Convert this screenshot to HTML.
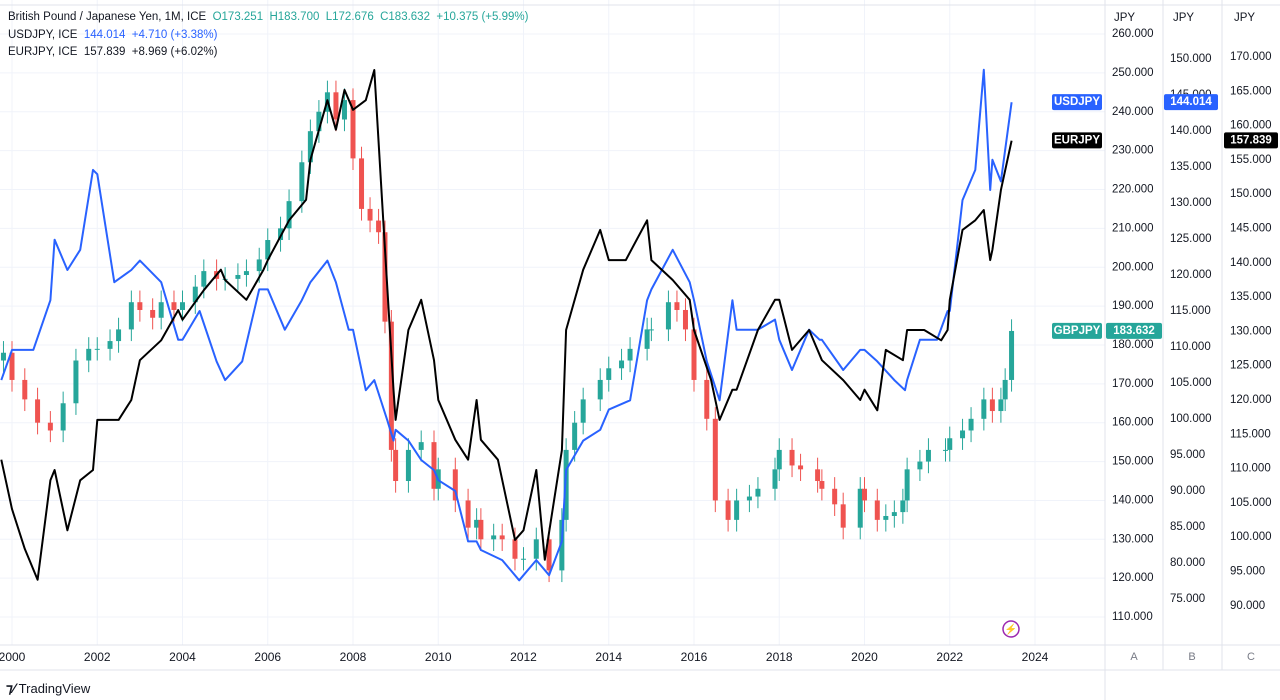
<!DOCTYPE html>
<html><head><meta charset="utf-8"><style>
body{margin:0;width:1280px;height:700px;background:#fff;font-family:"Liberation Sans",sans-serif;overflow:hidden;position:relative}
.lg{position:absolute;left:8px;font-size:11.5px;color:#131722;white-space:nowrap}
</style></head><body>
<svg id="c" width="1280" height="700" style="position:absolute;left:0;top:0" font-family="Liberation Sans, sans-serif"></svg>
<div class="lg" style="top:11px">British Pound / Japanese Yen, 1M, ICE &nbsp;<span style="color:#26a69a">O173.251 &nbsp;H183.700 &nbsp;L172.676 &nbsp;C183.632 &nbsp;+10.375 (+5.99%)</span></div>
<div class="lg" style="top:29px">USDJPY, ICE &nbsp;<span style="color:#2962ff">144.014 &nbsp;+4.710 (+3.38%)</span></div>
<div class="lg" style="top:46px">EURJPY, ICE &nbsp;157.839 &nbsp;+8.969 (+6.02%)</div>
<div style="position:absolute;left:6px;top:680px;font-size:13px;color:#131722"><b style="font-size:14px">⁊⁄</b> TradingView</div>
<script>
const gbpDates=[1999.8,2000.0,2000.3,2000.6,2000.9,2001.2,2001.5,2001.8,2002.0,2002.3,2002.5,2002.8,2003.0,2003.3,2003.5,2003.8,2004.0,2004.3,2004.5,2004.8,2005.0,2005.3,2005.5,2005.8,2006.0,2006.3,2006.5,2006.8,2007.0,2007.2,2007.4,2007.6,2007.8,2008.0,2008.2,2008.4,2008.6,2008.75,2008.9,2009.0,2009.3,2009.6,2009.9,2010.0,2010.4,2010.7,2010.9,2011.0,2011.3,2011.5,2011.8,2012.0,2012.3,2012.6,2012.9,2013.0,2013.2,2013.4,2013.8,2014.0,2014.3,2014.5,2014.9,2015.0,2015.4,2015.6,2015.8,2016.0,2016.3,2016.5,2016.8,2017.0,2017.3,2017.5,2017.9,2018.0,2018.3,2018.5,2018.9,2019.0,2019.3,2019.5,2019.9,2020.0,2020.3,2020.5,2020.7,2020.9,2021.0,2021.3,2021.5,2021.9,2022.0,2022.3,2022.5,2022.8,2023.0,2023.2,2023.3,2023.45];
const gbpClose=[178,171,166,160,158,165,176,179,179,181,184,191,189,187,191,189,191,195,199,197,197,198,199,202,207,210,217,227,235,240,245,238,243,228,215,212,209,186,153,145,153,155,143,148,140,133,135,130,131,130,125,125,130,122,135,153,160,166,171,174,176,179,184,184,191,189,184,171,161,140,135,140,141,143,148,153,149,148,145,143,139,133,143,140,135,136,137,140,148,150,153,153,156,158,161,166,163,166,171,183.6];
const usdDates=[1999.75,2000.0,2000.5,2000.9,2001.0,2001.3,2001.6,2001.9,2002.0,2002.4,2002.8,2003.0,2003.5,2003.9,2004.0,2004.4,2004.8,2005.0,2005.4,2005.8,2006.0,2006.4,2006.8,2007.0,2007.4,2007.6,2007.9,2008.0,2008.3,2008.5,2008.8,2008.95,2009.0,2009.3,2009.6,2009.9,2010.0,2010.4,2010.7,2010.9,2011.0,2011.5,2011.9,2012.0,2012.3,2012.6,2012.9,2013.0,2013.4,2013.8,2014.0,2014.5,2014.9,2015.0,2015.5,2015.9,2016.0,2016.3,2016.6,2016.9,2017.0,2017.5,2017.9,2018.0,2018.3,2018.7,2018.95,2019.0,2019.5,2019.9,2020.0,2020.3,2020.7,2020.95,2021.0,2021.3,2021.7,2021.95,2022.0,2022.3,2022.6,2022.8,2022.95,2023.0,2023.2,2023.45];
const usdClose=[105.4,109.6,109.6,116.5,124.9,120.7,123.5,134.6,134,119,120.7,122,119,111,111,115,108,105.4,108,118,118,112.4,116.5,119,122,119,112.4,112.4,104,105.4,99.9,97,98.5,97,94.3,92.9,91.5,90,83,83,81.8,80.4,77.6,78.3,80.4,78.3,83,92.9,97,98.5,101.3,102.6,116.5,118,123.5,119,116.5,108,102.6,116.5,112.4,112.4,113.8,111,106.8,112.4,111,111,106.8,109.6,109.6,108,105.4,104,105.4,111,111,115,115,130.4,134.6,148.5,131.8,136,133,144];
const eurDates=[1999.75,2000.0,2000.3,2000.6,2000.9,2001.0,2001.3,2001.6,2001.9,2002.0,2002.5,2002.8,2003.0,2003.5,2003.9,2004.0,2004.5,2004.9,2005.0,2005.5,2005.9,2006.0,2006.5,2006.9,2007.0,2007.4,2007.6,2007.8,2008.0,2008.3,2008.5,2008.75,2008.95,2009.0,2009.3,2009.6,2009.9,2010.0,2010.4,2010.7,2010.9,2011.0,2011.4,2011.8,2012.0,2012.3,2012.5,2012.9,2013.0,2013.4,2013.8,2014.0,2014.4,2014.9,2015.0,2015.5,2015.9,2016.0,2016.4,2016.6,2016.9,2017.0,2017.5,2017.9,2018.0,2018.3,2018.7,2019.0,2019.5,2019.9,2020.0,2020.3,2020.5,2020.9,2021.0,2021.4,2021.8,2021.95,2022.0,2022.3,2022.6,2022.8,2022.95,2023.0,2023.2,2023.45];
const eurClose=[111.3,104.1,98.3,93.8,108.3,109.8,101,108.3,109.8,117.1,117.1,120,125.8,128.7,133.1,131.7,136,139,137.5,134.6,139,140.4,146.2,149.2,155,163.7,159.4,165.2,162.3,163.7,168.1,141.9,121.5,117.1,130.2,134.6,125.8,120,114.2,111.3,120,114.2,111.3,99.6,101,109.8,96.7,112.7,130.2,139,144.8,140.4,140.4,146.2,140.4,137.5,134.6,130.2,122.9,117.1,121.5,121.5,130.2,134.6,134.6,127.3,130.2,125.8,122.9,120,121.5,118.5,127.3,125.8,130.2,130.2,128.7,130.2,134.6,144.8,146.2,147.7,140.4,141.9,150.6,157.8];
const yearTicks=[2000,2002,2004,2006,2008,2010,2012,2014,2016,2018,2020,2022,2024];
const ticksA=[110,120,130,140,150,160,170,180,190,200,210,220,230,240,250,260];
const ticksB=[75,80,85,90,95,100,105,110,115,120,125,130,135,140,145,150];
const ticksC=[90,95,100,105,110,115,120,125,130,135,140,145,150,155,160,165,170];

const NS="http://www.w3.org/2000/svg",svg=document.getElementById('c');
function mk(t,a,txt){const e=document.createElementNS(NS,t);for(const k in a)e.setAttribute(k,a[k]);if(txt!==undefined)e.textContent=txt;svg.appendChild(e);return e;}
const X=t=>12+(t-2000)*42.625;
const YA=p=>34+(260-p)*3.887, YB=p=>59+(150-p)*7.2, YC=p=>57+(170-p)*6.86;
ticksA.forEach(v=>{const g=mk('line',{x1:0,x2:1105,y1:YA(v),y2:YA(v),stroke:'#f0f3fa'});});
yearTicks.forEach(v=>{const g=mk('line',{x1:X(v),x2:X(v),y1:0,y2:645,stroke:'#f0f3fa'});});
[[1105,0,1105,700],[1163,0,1163,670],[1222,0,1222,670],[0,645,1280,645],[0,670,1280,670],[0,5,1280,5]].forEach(l=>{const e=mk('line',{x1:l[0],y1:l[1],x2:l[2],y2:l[3],stroke:'#e0e3eb'});});
for(let i=0;i<gbpClose.length;i++){
 const c=gbpClose[i],o=i?gbpClose[i-1]:c-2,up=c>=o,col=up?'#26a69a':'#ef5350',x=X(gbpDates[i]);
 const hi=Math.max(o,c)+3,lo=Math.min(o,c)-3;
 const w=mk('line',{x1:x,x2:x,y1:YA(hi),y2:YA(lo),stroke:col});
 const y1=YA(Math.max(o,c)),y2=YA(Math.min(o,c));
 const b=mk('rect',{x:x-2.5,y:y1,width:5,height:Math.max(1,y2-y1),fill:col});
}
function line(d,v,Y,col,name){const p=d.map((t,i)=>(i?'L':'M')+X(t).toFixed(1)+','+Y(v[i]).toFixed(1)).join('');const e=mk('path',{d:p,fill:'none',stroke:col,'stroke-width':2,'stroke-linejoin':'round'});}
line(usdDates,usdClose,YB,'#2962ff','usdjpy-line');
line(eurDates,eurClose,YC,'#000','eurjpy-line');
function tl(x,y,s,name,col){const e=mk('text',{x:x,y:y,'font-size':11.5,fill:col||'#131722','dominant-baseline':'middle'},s);}
ticksA.forEach(v=>tl(1112,YA(v),v.toFixed(3),'axis-a-tick'));
ticksB.forEach(v=>tl(1170,YB(v),v.toFixed(3),'axis-b-tick'));
ticksC.forEach(v=>tl(1230,YC(v),v.toFixed(3),'axis-c-tick'));
yearTicks.forEach(v=>{const e=mk('text',{x:X(v),y:658,'font-size':12,fill:'#131722','text-anchor':'middle','dominant-baseline':'middle'},v);});
[['JPY',1114],['JPY',1173],['JPY',1234]].forEach(a=>tl(a[1],18,a[0],'axis-unit'));
[['A',1134],['B',1192],['C',1251]].forEach(a=>{const e=mk('text',{x:a[1],y:657,'font-size':11,fill:'#787b86','text-anchor':'middle','dominant-baseline':'middle'},a[0]);});
function badge(x,y,w,txt,bg,name){const r=mk('rect',{x:x,y:y-8,width:w,height:16,fill:bg,rx:2});const t=mk('text',{x:x+w/2,y:y,'font-size':11.5,fill:'#fff','text-anchor':'middle','dominant-baseline':'middle','font-weight':'bold'},txt);}
badge(1052,YB(144.014),50,'USDJPY','#2962ff','usdjpy-label');
badge(1164,YB(144.014),54,'144.014','#2962ff','usdjpy-price');
badge(1052,YC(157.839),50,'EURJPY','#000','eurjpy-label');
badge(1224,YC(157.839),54,'157.839','#000','eurjpy-price');
badge(1052,YA(183.632),50,'GBPJPY','#26a69a','gbpjpy-label');
badge(1106,YA(183.632),56,'183.632','#26a69a','gbpjpy-price');
const ic=mk('circle',{cx:1011,cy:629,r:8,fill:'none',stroke:'#9c27b0','stroke-width':1.5});
const it=mk('text',{x:1011,y:630,'font-size':10,fill:'#9c27b0','text-anchor':'middle','dominant-baseline':'middle'},'⚡');
</script>
</body></html>
